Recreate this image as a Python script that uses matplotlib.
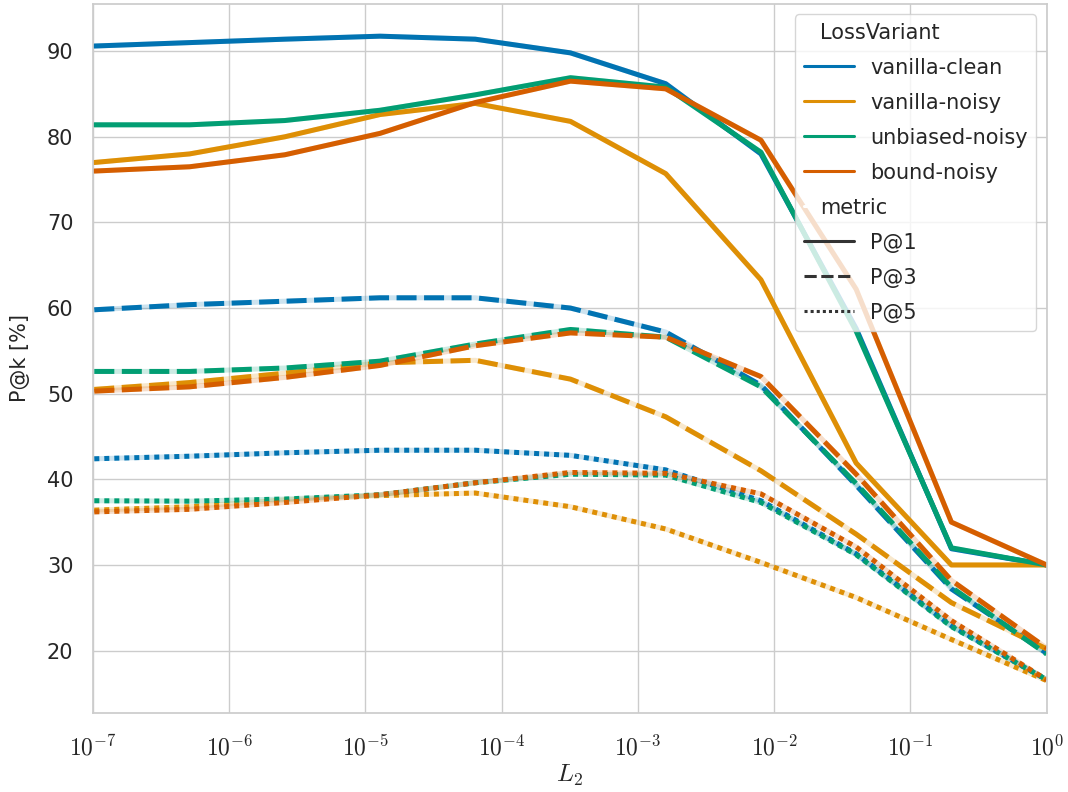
import numpy as np
import pandas as pd
import matplotlib
matplotlib.use("Agg")
import matplotlib.pyplot as plt
import seaborn as sns

# regularisation strengths (L2) used in the sweep
l2 = [1.024e-7, 5.12e-7, 2.56e-6, 1.28e-5, 6.4e-5, 3.2e-4, 1.6e-3, 8e-3, 0.04, 0.2, 1.0]

variants = ["vanilla-clean", "vanilla-noisy", "unbiased-noisy", "bound-noisy"]
metrics = ["P@1", "P@3", "P@5"]

# P@1
p1_vanilla_clean = [90.6, 91.0, 91.4, 91.75, 91.4, 89.8, 86.2, 78.0, 57.6, 31.9, 30.0]
p1_vanilla_noisy = [77.0, 78.0, 80.0, 82.6, 83.9, 81.8, 75.7, 63.3, 41.9, 30.0, 30.0]
p1_unbiased_noisy = [81.4, 81.4, 81.9, 83.1, 84.9, 86.9, 85.8, 78.2, 57.3, 32.0, 30.0]
p1_bound_noisy = [76.0, 76.5, 77.9, 80.4, 84.0, 86.5, 85.6, 79.6, 62.2, 35.0, 30.0]

# P@3
p3_vanilla_clean = [59.8, 60.4, 60.8, 61.2, 61.2, 60.0, 57.2, 51.0, 39.3, 27.2, 19.7]
p3_vanilla_noisy = [50.5, 51.3, 52.4, 53.6, 53.9, 51.7, 47.3, 41.0, 33.6, 25.6, 20.2]
p3_unbiased_noisy = [52.6, 52.6, 53.0, 53.8, 55.8, 57.5, 56.6, 50.8, 39.5, 27.4, 19.6]
p3_bound_noisy = [50.3, 50.8, 51.9, 53.3, 55.6, 57.1, 56.6, 52.0, 40.6, 28.2, 20.3]

# P@5
p5_vanilla_clean = [42.4, 42.7, 43.1, 43.4, 43.4, 42.8, 41.1, 37.5, 31.3, 22.9, 16.6]
p5_vanilla_noisy = [36.4, 36.8, 37.6, 38.1, 38.4, 36.8, 34.2, 30.3, 26.2, 21.3, 16.5]
p5_unbiased_noisy = [37.5, 37.45, 37.7, 38.2, 39.6, 40.6, 40.5, 37.3, 31.2, 22.8, 16.6]
p5_bound_noisy = [36.2, 36.5, 37.3, 38.2, 39.6, 40.8, 40.7, 38.3, 32.1, 23.5, 16.6]

results = {
    ("vanilla-clean", "P@1"): p1_vanilla_clean,
    ("vanilla-noisy", "P@1"): p1_vanilla_noisy,
    ("unbiased-noisy", "P@1"): p1_unbiased_noisy,
    ("bound-noisy", "P@1"): p1_bound_noisy,
    ("vanilla-clean", "P@3"): p3_vanilla_clean,
    ("vanilla-noisy", "P@3"): p3_vanilla_noisy,
    ("unbiased-noisy", "P@3"): p3_unbiased_noisy,
    ("bound-noisy", "P@3"): p3_bound_noisy,
    ("vanilla-clean", "P@5"): p5_vanilla_clean,
    ("vanilla-noisy", "P@5"): p5_vanilla_noisy,
    ("unbiased-noisy", "P@5"): p5_unbiased_noisy,
    ("bound-noisy", "P@5"): p5_bound_noisy,
}

rows = []
for (var, met), vals in results.items():
    for x, v in zip(l2, vals):
        rows.append({"L2": x, "LossVariant": var, "metric": met, "value": v})
df = pd.DataFrame(rows)

sns.set_theme(style="whitegrid")
plt.rcParams["font.family"] = ["DejaVu Sans"]
plt.rcParams["mathtext.fontset"] = "cm"

palette = sns.color_palette("colorblind", 4)
colors = dict(zip(variants, palette))
lw = 3.6

fig, ax = plt.subplots(figsize=(10.68, 7.92), dpi=100)
fig.subplots_adjust(left=0.087, right=0.980, top=0.995, bottom=0.100)

# pale underlay so the gaps in dashed/dotted lines keep a tint
for (var, met), vals in results.items():
    ax.plot(l2, vals, color=colors[var], alpha=0.2, lw=lw, zorder=1.5,
            solid_capstyle="butt")

sns.lineplot(data=df, x="L2", y="value", hue="LossVariant", style="metric",
             hue_order=variants, style_order=metrics, palette=palette,
             linewidth=lw, ax=ax)

ax.set_xscale("log")
ax.set_xlim(1e-7, 1)
ticks = 10.0 ** np.arange(-7, 1)
ax.set_xticks(ticks)
ax.set_xticklabels([f"$10^{{{e}}}$" for e in range(-7, 1)], fontsize=17)
ax.minorticks_off()
ax.tick_params(axis="x", pad=10)
ax.tick_params(axis="y", labelsize=15, pad=8)
ax.set_xlabel("$L_2$", fontsize=18, labelpad=2)
ax.set_ylabel("P@k [%]", fontsize=15, labelpad=12)

leg = ax.legend(loc="upper right", fontsize=15, handlelength=2.4,
                labelspacing=0.72)
for h in leg.legend_handles:
    if h is not None:
        h.set_linewidth(2.2)

# subtitle rows: drop the empty handle area so the text sits further left
for col in leg._legend_handle_box.get_children():
    for row in col.get_children():
        area, text = row.get_children()
        if text.get_text() in ("LossVariant", "metric"):
            area.set_width(0)

fig.savefig("out.png", dpi=100)
